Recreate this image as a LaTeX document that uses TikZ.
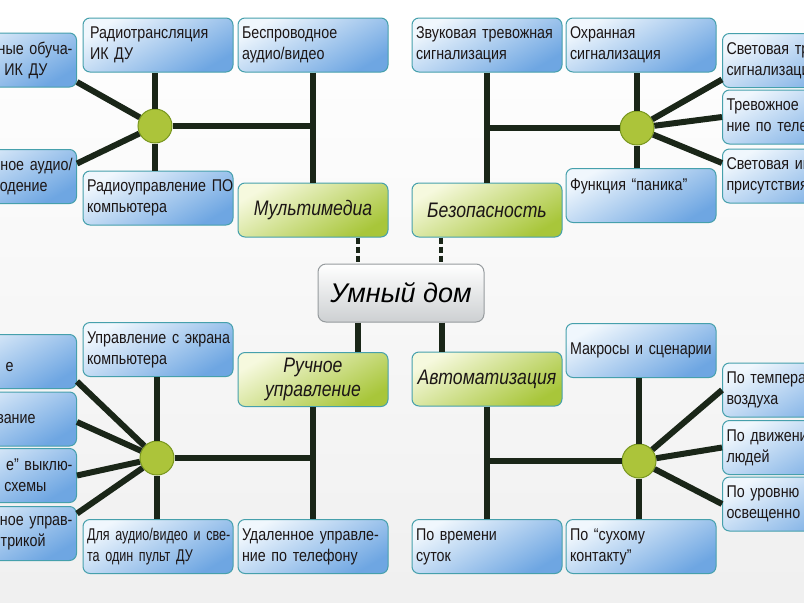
\documentclass[tikz,border=0pt]{standalone}
\usepackage{fontspec}
\setmainfont[FakeStretch=0.84]{Liberation Sans}
\newfontfamily\homefont{Liberation Sans}
\newfontfamily\tightfont[FakeStretch=0.74]{Liberation Sans}
\usetikzlibrary{calc, shapes, positioning}

\definecolor{boxline}{RGB}{70,160,172}
\definecolor{boxblue}{RGB}{110,166,226}
\definecolor{boxpale}{RGB}{240,247,253}
\definecolor{titlegreen}{RGB}{168,198,58}
\definecolor{titlepale}{RGB}{246,249,222}
\definecolor{hubgreen}{RGB}{172,196,58}
\definecolor{hubline}{RGB}{120,150,30}
\definecolor{linkdark}{RGB}{26,38,24}
\definecolor{homegrey}{RGB}{205,208,210}
\definecolor{homeline}{RGB}{150,155,158}
\definecolor{inktext}{RGB}{28,22,22}

\tikzset{
	infobox/.style={draw=boxline, line width=1pt, rounded corners=7pt, top color=boxpale, bottom color=boxblue, shading angle=30, text width=142pt, inner xsep=4pt, minimum height=54pt, align=left, text=inktext, font=\fontsize{17}{21}\selectfont},
	cutbox/.style={infobox, align=right},
	titlebox/.style={infobox, top color=titlepale, bottom color=titlegreen, shading angle=30, align=center, font=\fontsize{21}{24}\selectfont\itshape},
	homebox/.style={draw=homeline, line width=1pt, rounded corners=8pt, top color=white, bottom color=homegrey, minimum width=166pt, minimum height=58pt, text=black, font=\homefont\fontsize{27}{30}\selectfont\itshape},
	hub/.style={circle, draw=hubline, line width=1pt, fill=hubgreen, minimum size=34pt, inner sep=0pt},
	link/.style={draw=linkdark, line width=6pt},
	dashlink/.style={link, line width=4.5pt, dash pattern=on 6pt off 3pt}
}

\begin{document}
\begin{tikzpicture}[x=1pt, y=-1pt]
	\useasboundingbox (0,0) rectangle (804,603);
	\fill[top color=white, bottom color=gray!12] (0,0) rectangle (804,603);
	\clip (0,0) rectangle (804,603);

	\node[homebox] (home) at (401,293) {Умный дом};

	% Мультимедиа
	\node[cutbox, anchor=east] (lt1) at (77,60) {ьные обуча-\\ы ИК ДУ\hspace*{25pt}};
	\node[cutbox, anchor=east] (lt2) at (77,176.5) {ное аудио/\hspace*{10pt}\\юодение\hspace*{25pt}};
	\node[infobox] (radio) at (158,45) {\hspace*{3pt}Радиотрансляция\\\hspace*{3pt}ИК ДУ};
	\node[infobox] (wireless) at (313,45) {Беспроводное\\аудио/видео};
	\node[infobox] (pcradio) at (158,198) {\mbox{Радиоуправление ПО}\\компьютера};
	\node[titlebox] (multimedia) at (313,210) {Мультимедиа};
	\node[hub] (h1) at (155,126) {};

	% Безопасность
	\node[infobox] (sound) at (487,45) {\mbox{Звуковая тревожная}\\сигнализация};
	\node[infobox] (guard) at (641,45) {Охранная\\сигнализация};
	\node[infobox, anchor=west] (rt1) at (722,60.5) {Световая тр\\сигнализаци};
	\node[infobox, anchor=west] (rt2) at (722,117) {Тревожное с\\ние по телеф};
	\node[infobox, anchor=west] (rt3) at (722,176) {Световая им\\присутствия х};
	\node[infobox] (panic) at (641,195.5) {Функция “паника”\\\mbox{}};
	\node[titlebox] (security) at (487,210) {Безопасность};
	\node[hub] (h2) at (637,128) {};

	% Ручное управление
	\node[cutbox, anchor=east] (lb1) at (77,361.5) {\mbox{}\\е\hspace*{59pt}};
	\node[cutbox, anchor=east] (lb2) at (77,419) {вание\hspace*{37pt}};
	\node[cutbox, anchor=east] (lb3) at (77,475.5) {е” выклю-\hspace*{6pt}\\схемы\hspace*{26pt}};
	\node[cutbox, anchor=east] (lb4) at (77,533.5) {ное управ-\hspace*{2pt}\\трикой\hspace*{27pt}};
	\node[infobox] (screen) at (158,349.5) {\mbox{Управление с экрана}\\компьютера};
	\node[titlebox] (manual) at (313,379.5) {Ручное\\управление};
	\node[infobox] (onerc) at (158,546.5) {\tightfont\mbox{Для аудио/видео и све-}\\та один пульт ДУ};
	\node[infobox] (phone) at (313,546.5) {\mbox{Удаленное управле-}\\ние по телефону};
	\node[hub] (h3) at (157,458) {};

	% Автоматизация
	\node[infobox] (macros) at (641,350.5) {Макросы и сценарии};
	\node[titlebox] (auto) at (487,379) {Автоматизация};
	\node[infobox, anchor=west] (rb1) at (722,390) {По темпера\\воздуха};
	\node[infobox, anchor=west] (rb2) at (722,447.5) {По движени\\людей};
	\node[infobox, anchor=west] (rb3) at (722,504) {По уровню\\освещенно};
	\node[infobox] (timeofday) at (487,546.5) {По времени\\суток};
	\node[infobox] (drycontact) at (641,546.5) {По “сухому\\контакту”};
	\node[hub] (h4) at (639,461) {};

	\coordinate (mm) at ($(multimedia.south)+(45,0)$);
	\coordinate (ss) at ($(security.south)+(-46,0)$);
	\coordinate (mn) at ($(manual.north)+(45,0)$);
	\coordinate (an) at ($(auto.north)+(-45,0)$);
	\draw[dashlink] (mm) -- (mm |- home.north);
	\draw[dashlink] (ss) -- (ss |- home.north);
	\draw[link] (mn |- home.south) -- (mn);
	\draw[link] (an |- home.south) -- (an);

	\draw[link] (wireless.south) -- (multimedia.north);
	\draw[link] (h1) -- (h1 -| wireless.south);
	\draw[link] (h1) -- (h1 |- radio.south);
	\draw[link] (h1) -- (h1 |- pcradio.north);
	\draw[link] (h1) -- ($(lt1.east)+(0,22)$);
	\draw[link] (h1) -- ($(lt2.east)+(0,-13)$);

	\draw[link] (sound.south) -- (security.north);
	\draw[link] (h2) -- (h2 -| sound.south);
	\draw[link] (h2) -- (h2 |- guard.south);
	\draw[link] (h2) -- (h2 |- panic.north);
	\draw[link] (h2) -- ($(rt1.west)+(0,19)$);
	\draw[link] (h2) -- (rt2.west);
	\draw[link] (h2) -- ($(rt3.west)+(0,-13)$);

	\draw[link] (manual.south) -- (phone.north);
	\draw[link] (h3) -- (h3 -| manual.south);
	\draw[link] (h3) -- (h3 |- screen.south);
	\draw[link] (h3) -- (h3 |- onerc.north);
	\draw[link] (h3) -- ($(lb1.east)+(0,20)$);
	\draw[link] (h3) -- ($(lb2.east)+(0,3)$);
	\draw[link] (h3) -- (lb3.east);
	\draw[link] (h3) -- ($(lb4.east)+(0,-20)$);

	\draw[link] (auto.south) -- (timeofday.north);
	\draw[link] (h4) -- (h4 -| auto.south);
	\draw[link] (h4) -- (h4 |- macros.south);
	\draw[link] (h4) -- (h4 |- drycontact.north);
	\draw[link] (h4) -- (rb1.west);
	\draw[link] (h4) -- (rb2.west);
	\draw[link] (h4) -- (rb3.west);
\end{tikzpicture}
\end{document}
